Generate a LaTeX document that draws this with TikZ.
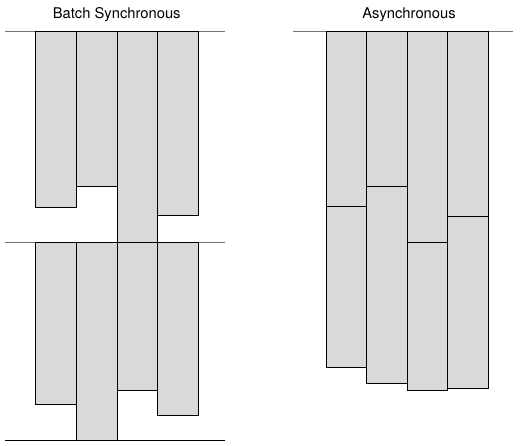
\documentclass[tikz,border=0pt]{standalone}
\usepackage{fontspec}
\setmainfont{TeX Gyre Heros}
\tikzset{
  every picture/.append style={line join=miter},
  sync task/.style={draw=black,fill=black!15,line width=0.9pt},
  sync barrier/.style={black!55,line width=0.8pt},
  sync end/.style={black,line width=0.9pt},
  sync title/.style={font=\fontsize{14.8}{17}\selectfont,inner sep=0pt,anchor=base}
}

\begin{document}
\begin{tikzpicture}[x=1bp, y=-1bp]
  \useasboundingbox (0,0) rectangle (520,446);
  % titles
  \node[sync title] (batch title) at (116.7,18.5) {Batch Synchronous};
  \node[sync title] (async title) at (409,18.5) {Asynchronous};
  % barriers
  \draw[sync barrier] (5,31) -- (225,31);
  \draw[sync barrier] (5,242) -- (225,242);
  \draw[sync end] (5,440) -- (225,440);
  \draw[sync barrier] (293,31) -- (513,31);
  % batch synchronous, first batch
  \foreach \xa/\xb/\yb in {35/76/207, 76/117/186, 117/157/242, 157/198/215}
    \draw[sync task] (\xa,31) rectangle (\xb,\yb);
  % batch synchronous, second batch
  \foreach \xa/\xb/\yb in {35/76/404, 76/117/440, 117/157/390, 157/198/415}
    \draw[sync task] (\xa,242) rectangle (\xb,\yb);
  % asynchronous
  \foreach \xa/\xb/\ya/\yb in {326/366/206/367, 366/407/186/383, 407/447/242/390, 447/488/216/388}{
    \draw[sync task] (\xa,31) rectangle (\xb,\ya);
    \draw[sync task] (\xa,\ya) rectangle (\xb,\yb);
  }
\end{tikzpicture}
\end{document}
